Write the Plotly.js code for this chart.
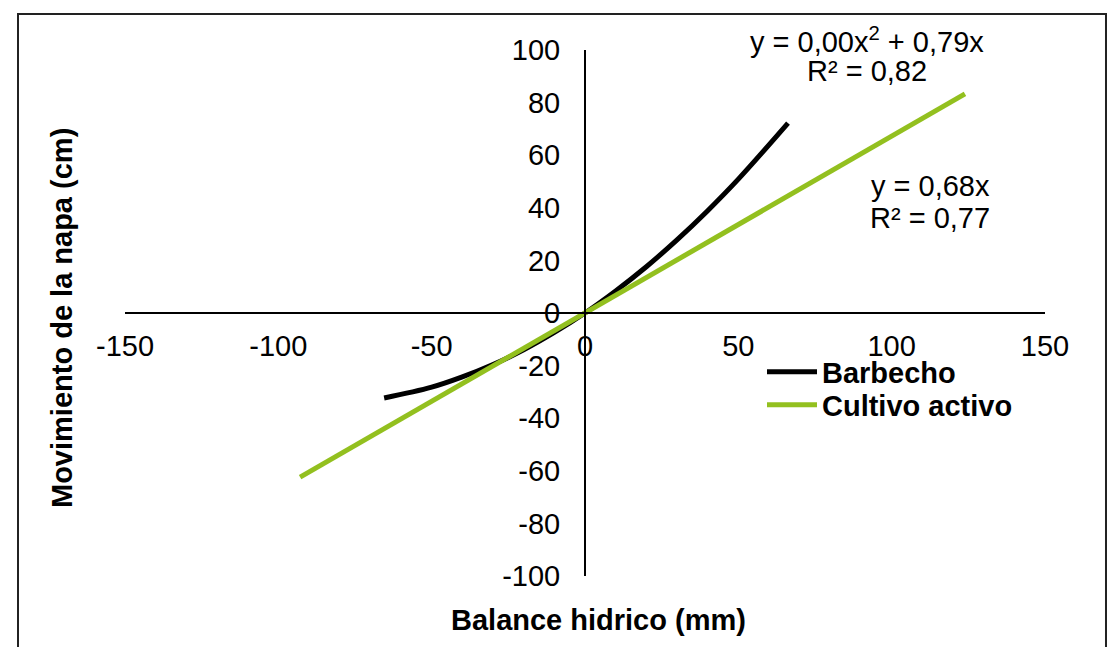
<!DOCTYPE html>
<html>
<head>
<meta charset="utf-8">
<script src="https://cdn.plot.ly/plotly-3.0.1.min.js"></script>
<style>
html,body{margin:0;padding:0;background:#fff;}
#chart{width:1116px;height:647px;}
</style>
</head>
<body>
<div id="chart"></div>
<script>
// Barbecho (fallow) quadratic trend
const barbechoX = [-65.5, -50, -40, -30, -20, -10, 0, 10, 20, 30, 40, 50, 66.2];
const barbechoY = [-32.3, -28.2, -24.3, -19.6, -14.0, -7.4, 0, 8.4, 17.6, 27.8, 38.9, 50.9, 72.2];
// Cultivo activo linear trend
const cultivoX = [-92.9, 0, 123.9];
const cultivoY = [-62.4, 0, 83.3];

const xTicks = [-150, -100, -50, 0, 50, 100, 150];
const yTicks = [-100, -80, -60, -40, -20, 0, 20, 40, 60, 80, 100];

const seriesNames = ['Barbecho', 'Cultivo activo'];
const eq1 = ['y = 0,00x<sup>2</sup> + 0,79x', 'R² = 0,82'];
const eq2 = ['y = 0,68x', 'R² = 0,77'];

const FONT = 'Liberation Sans, Arial, sans-serif';
const FS = 29;

const traces = [
  {x: barbechoX, y: barbechoY, type: 'scatter', mode: 'lines', name: seriesNames[0], legend: 'legend',
   line: {color: '#000000', width: 5, shape: 'spline'}},
  {x: cultivoX, y: cultivoY, type: 'scatter', mode: 'lines', name: seriesNames[1], legend: 'legend2',
   line: {color: '#93C01F', width: 5}}
];

const legendBase = {xanchor: 'left', yanchor: 'middle', itemwidth: 50,
  font: {family: FONT, size: FS, color: '#000', weight: 'bold'},
  bgcolor: 'rgba(0,0,0,0)', borderwidth: 0};

const layout = {
  width: 1116, height: 647,
  margin: {l: 125, r: 71, t: 50, b: 71},
  paper_bgcolor: '#ffffff', plot_bgcolor: '#ffffff',
  font: {family: FONT, size: FS, color: '#000'},
  showlegend: true,
  legend: Object.assign({x: (762-125)/920, y: (576-372)/526}, legendBase),
  legend2: Object.assign({x: (762-125)/920, y: (576-405)/526}, legendBase),
  xaxis: {
    range: [-150, 150], tickvals: xTicks, ticktext: xTicks.map(String),
    showgrid: false, zeroline: false, showline: true, linecolor: '#000', linewidth: 2,
    anchor: 'free', position: 0.5,
    ticks: 'outside', ticklen: 7, tickcolor: 'rgba(0,0,0,0)',
    tickfont: {family: FONT, size: FS, color: '#000'},
    fixedrange: true
  },
  yaxis: {
    range: [-100, 100], tickvals: yTicks, ticktext: yTicks.map(String),
    showgrid: false, zeroline: false, showline: true, linecolor: '#000', linewidth: 2,
    anchor: 'free', position: 0.5,
    ticks: 'outside', ticklen: 18, tickcolor: 'rgba(0,0,0,0)',
    tickfont: {family: FONT, size: FS, color: '#000'},
    fixedrange: true
  },
  shapes: [
    {type: 'rect', xref: 'paper', yref: 'paper',
     x0: -0.1163, x1: 1.0663, y0: -0.2, y1: 1.0684,
     line: {color: '#222', width: 2}, fillcolor: 'rgba(0,0,0,0)', layer: 'below'}
  ],
  annotations: [
    {xref: 'paper', yref: 'paper', x: (598-125)/920, y: (576-620)/526, text: 'Balance hidrico (mm)',
     showarrow: false, xanchor: 'center', yanchor: 'middle',
     font: {family: FONT, size: FS, color: '#000', weight: 'bold'}},
    {xref: 'paper', yref: 'paper', x: (62-125)/920, y: (576-318)/526, text: 'Movimiento de la napa (cm)',
     showarrow: false, xanchor: 'center', yanchor: 'middle', textangle: -90,
     font: {family: FONT, size: FS, color: '#000', weight: 'bold'}},
    {xref: 'paper', yref: 'paper', x: (867-125)/920, y: (576-40)/526, text: eq1[0],
     showarrow: false, xanchor: 'center', yanchor: 'middle', font: {family: FONT, size: FS, color: '#000'}},
    {xref: 'paper', yref: 'paper', x: (867-125)/920, y: (576-71)/526, text: eq1[1],
     showarrow: false, xanchor: 'center', yanchor: 'middle', font: {family: FONT, size: FS, color: '#000'}},
    {xref: 'paper', yref: 'paper', x: (930-125)/920, y: (576-186)/526, text: eq2[0],
     showarrow: false, xanchor: 'center', yanchor: 'middle', font: {family: FONT, size: FS, color: '#000'}},
    {xref: 'paper', yref: 'paper', x: (930-125)/920, y: (576-218)/526, text: eq2[1],
     showarrow: false, xanchor: 'center', yanchor: 'middle', font: {family: FONT, size: FS, color: '#000'}}
  ]
};

Plotly.newPlot('chart', traces, layout, {displayModeBar: false, staticPlot: true});
</script>
</body>
</html>
